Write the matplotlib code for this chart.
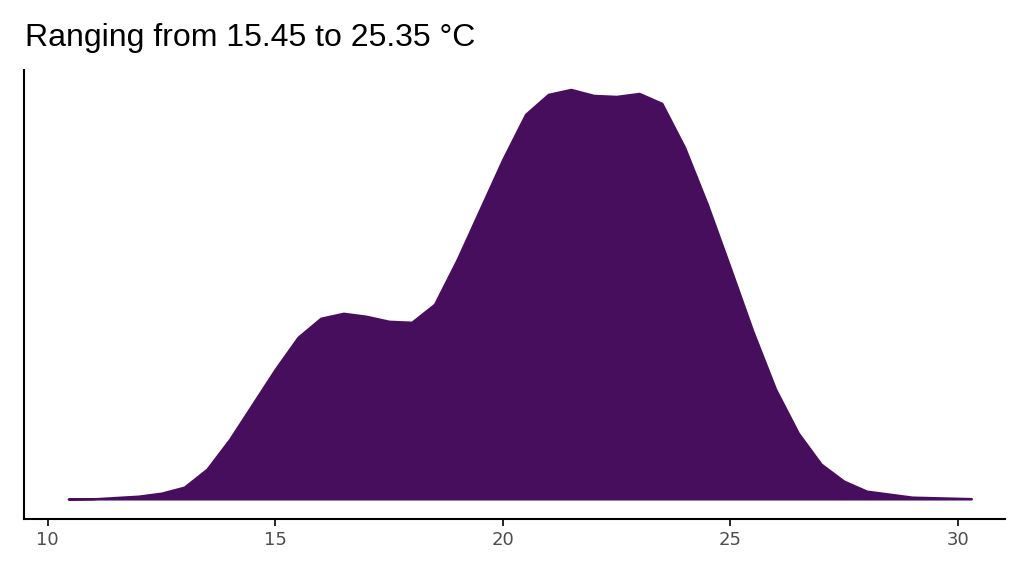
import matplotlib
matplotlib.use("Agg")
import matplotlib.pyplot as plt
import numpy as np

temp = [10.45, 11, 12, 12.5, 13, 13.5, 14, 14.5, 15, 15.5, 16, 16.5, 17, 17.5, 18, 18.5, 19, 19.5, 20, 20.5, 21, 21.5, 22, 22.5, 23, 23.5, 24, 24.5, 25, 25.5, 26, 26.5, 27, 27.5, 28, 29, 30.3]
density = [0.0, 0.3, 3, 6, 12, 30, 60, 95, 130, 162, 181, 186, 183, 178, 177, 195, 240, 290, 340, 385, 405, 410, 404, 403, 406, 396, 352, 295, 232, 168, 110, 66, 35, 18, 8, 2, 0.5]
density = np.array(density) / 3400.0

fig = plt.figure(figsize=(10.24, 5.76), dpi=100)
ax = fig.add_axes([0.023, 0.099, 0.958, 0.779])
ax.fill_between(temp, density, 0, color="#470E5E", lw=1.5, edgecolor="#470E5E")
ax.set_xlim(9.47, 31.03)
ax.set_ylim(-20/3400, 429/3400)
ax.set_xticks([10, 15, 20, 25, 30])
ax.set_yticks([])
for s in ["top", "right"]:
    ax.spines[s].set_visible(False)
for s in ["left", "bottom"]:
    ax.spines[s].set_linewidth(1.5)
ax.tick_params(axis="x", labelsize=13, labelcolor="#4d4d4d", length=5, width=1.2)
fig.text(0.024, 0.92, "Ranging from 15.45 to 25.35 °C", fontsize=23, family="Liberation Sans")
fig.savefig("out.png", dpi=100)
